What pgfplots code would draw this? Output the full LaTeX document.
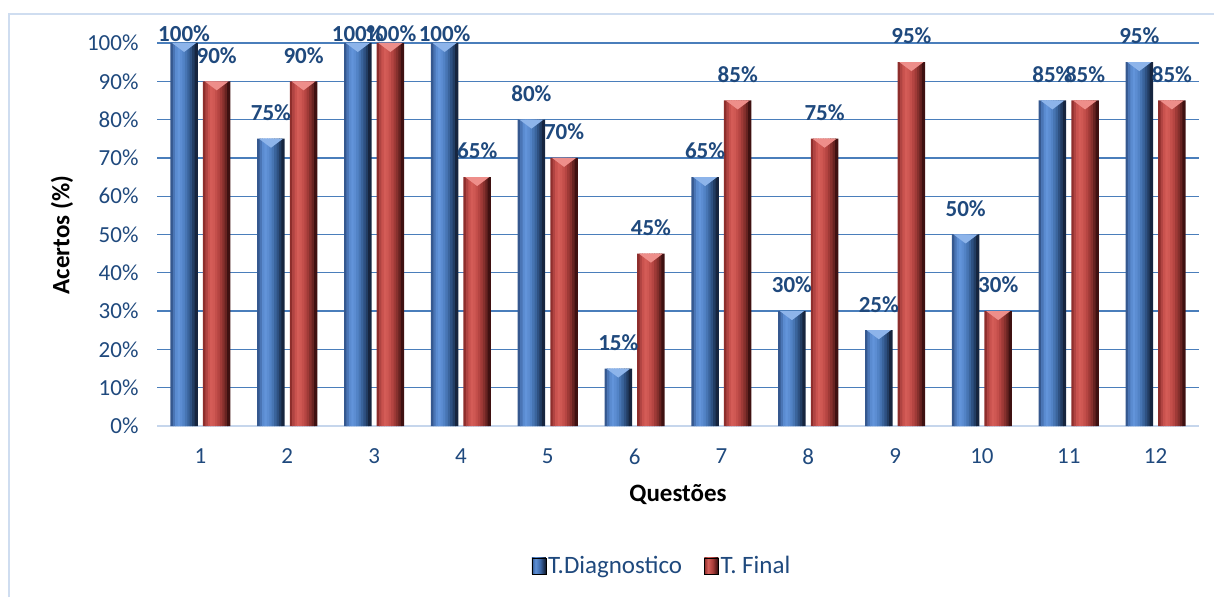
\documentclass[border=0pt]{standalone}
\usepackage{pgfplots}
\usepackage{pgfplotstable}
\pgfplotsset{compat=1.18}
\usepackage{fontspec}
\setmainfont{Carlito}
\definecolor{labblue}{HTML}{1F497D}
\definecolor{gridblue}{HTML}{4A7EBB}
\definecolor{axisl}{HTML}{C6D6EC}
\definecolor{frameb}{HTML}{CFDDF0}
\definecolor{bA}{HTML}{2E5793}
\definecolor{bB}{HTML}{5E90D6}
\definecolor{bC}{HTML}{3D68A8}
\definecolor{bD}{HTML}{15243D}
\definecolor{rA}{HTML}{8F2E2C}
\definecolor{rB}{HTML}{D5605B}
\definecolor{rC}{HTML}{A83C38}
\definecolor{rD}{HTML}{3F1010}
\definecolor{bCap}{HTML}{8DB4EA}
\definecolor{rCap}{HTML}{EE8E8A}
\definecolor{b1}{HTML}{35588F}
\definecolor{b2}{HTML}{4A75B5}
\definecolor{b3}{HTML}{5A8BD0}
\definecolor{b4}{HTML}{6294DA}
\definecolor{b5}{HTML}{5C8DD2}
\definecolor{b6}{HTML}{5283C6}
\definecolor{b7}{HTML}{4775B3}
\definecolor{b8}{HTML}{3A649C}
\definecolor{b9}{HTML}{2E5182}
\definecolor{b10}{HTML}{223D63}
\definecolor{b11}{HTML}{16253F}
\definecolor{r1}{HTML}{8E2E2C}
\definecolor{r2}{HTML}{B04442}
\definecolor{r3}{HTML}{C9524E}
\definecolor{r4}{HTML}{D45C57}
\definecolor{r5}{HTML}{CF5853}
\definecolor{r6}{HTML}{C44F4B}
\definecolor{r7}{HTML}{B54542}
\definecolor{r8}{HTML}{9F3A37}
\definecolor{r9}{HTML}{86302D}
\definecolor{r10}{HTML}{672321}
\definecolor{r11}{HTML}{3F1111}
\pgfdeclarehorizontalshading{blueBar}{100bp}{color(0bp)=(bA); color(25bp)=(bA); color(38bp)=(bB); color(55bp)=(bC); color(72bp)=(bD); color(100bp)=(bD)}
\pgfdeclarehorizontalshading{redBar}{100bp}{color(0bp)=(rA); color(25bp)=(rA); color(38bp)=(rB); color(55bp)=(rC); color(72bp)=(rD); color(100bp)=(rD)}
\pgfdeclareplotmark{capL}{\pgfpathmoveto{\pgfpoint{-28.3pt}{0pt}}\pgfpathlineto{\pgfpoint{-4.3pt}{0pt}}\pgfpathlineto{\pgfpoint{-16.3pt}{-9pt}}\pgfpathclose\pgfusepathqfill}
\pgfdeclareplotmark{capR}{\pgfpathmoveto{\pgfpoint{4.3pt}{0pt}}\pgfpathlineto{\pgfpoint{28.3pt}{0pt}}\pgfpathlineto{\pgfpoint{16.3pt}{-9pt}}\pgfpathclose\pgfusepathqfill}
\pgfplotstableread{
q d f
1 100 90
2 75 90
3 100 100
4 100 65
5 80 70
6 15 45
7 65 85
8 30 75
9 25 95
10 50 30
11 85 85
12 95 85
}\data
\pgfplotsset{strip/.style={ybar, bar width=3.3pt, draw=none, forget plot}}
\begin{document}
\begin{tikzpicture}[x=1pt,y=1pt]
\useasboundingbox (0,0) rectangle (1214,597);
\draw[frameb, line width=2pt] (8.5,0) -- (8.5,583) -- (1214,583);
\begin{axis}[
 at={(157pt,171pt)}, anchor=south west,
 scale only axis, width=1042pt, height=383pt,
 xmin=0.5, xmax=12.5, ymin=0, ymax=100,
 clip=false,
 axis lines*=left, axis line style={-},
 y axis line style={draw=none},
 x axis line style={draw=axisl, line width=2.2pt},
 ymajorgrids, grid style={gridblue, line width=1.3pt},
 major tick length=0pt,
 xtick={1,...,12}, ytick={10,20,...,100},
 extra y ticks={0}, extra y tick style={grid=none},
 yticklabel={\pgfmathprintnumber{\tick}\%},
 /pgf/number format/assume math mode=true,
 tick label style={font=\fontsize{23}{23}\selectfont, text=labblue},
 yticklabel style={xshift=-15pt},
 xticklabel style={yshift=-19pt},
 xlabel={Questões}, ylabel={Acertos (\%)},
 every axis x label/.style={at={(rel axis cs:0.5,-0.18)}, anchor=center, font=\fontsize{25}{25}\selectfont\bfseries},
 every axis y label/.style={at={(rel axis cs:-0.0912,0.4987)}, rotate=90, anchor=center, font=\fontsize{25}{25}\selectfont\bfseries},
 legend style={at={(rel axis cs:0.4846,-0.3655)}, anchor=center, draw=none, fill=none, legend columns=2, font=\fontsize{25}{25}\selectfont, text=labblue, /tikz/every even column/.append style={column sep=20pt}},
]
\addplot[strip, bar shift=-28.4pt, fill=b1] table[x=q,y=d]{\data};
\addplot[strip, bar shift=-25.98pt, fill=b2] table[x=q,y=d]{\data};
\addplot[strip, bar shift=-23.56pt, fill=b3] table[x=q,y=d]{\data};
\addplot[strip, bar shift=-21.14pt, fill=b4] table[x=q,y=d]{\data};
\addplot[strip, bar shift=-18.72pt, fill=b5] table[x=q,y=d]{\data};
\addplot[strip, bar shift=-16.3pt, fill=b6] table[x=q,y=d]{\data};
\addplot[strip, bar shift=-13.88pt, fill=b7] table[x=q,y=d]{\data};
\addplot[strip, bar shift=-11.46pt, fill=b8] table[x=q,y=d]{\data};
\addplot[strip, bar shift=-9.04pt, fill=b9] table[x=q,y=d]{\data};
\addplot[strip, bar shift=-6.62pt, fill=b10] table[x=q,y=d]{\data};
\addplot[strip, bar shift=-4.2pt, fill=b11] table[x=q,y=d]{\data};
\addplot[strip, bar shift=4.2pt, fill=r1] table[x=q,y=f]{\data};
\addplot[strip, bar shift=6.62pt, fill=r2] table[x=q,y=f]{\data};
\addplot[strip, bar shift=9.04pt, fill=r3] table[x=q,y=f]{\data};
\addplot[strip, bar shift=11.46pt, fill=r4] table[x=q,y=f]{\data};
\addplot[strip, bar shift=13.88pt, fill=r5] table[x=q,y=f]{\data};
\addplot[strip, bar shift=16.3pt, fill=r6] table[x=q,y=f]{\data};
\addplot[strip, bar shift=18.72pt, fill=r7] table[x=q,y=f]{\data};
\addplot[strip, bar shift=21.14pt, fill=r8] table[x=q,y=f]{\data};
\addplot[strip, bar shift=23.56pt, fill=r9] table[x=q,y=f]{\data};
\addplot[strip, bar shift=25.98pt, fill=r10] table[x=q,y=f]{\data};
\addplot[strip, bar shift=28.4pt, fill=r11] table[x=q,y=f]{\data};
\addlegendimage{legend image code/.code={\shade[shading=blueBar] (0pt,-8pt) rectangle (14pt,8pt);}}
\addlegendentry{T.Diagnostico}
\addlegendimage{legend image code/.code={\shade[shading=redBar] (0pt,-8pt) rectangle (14pt,8pt);}}
\addlegendentry{T. Final}
\addplot[only marks, mark=capL, mark options={fill=bCap, draw=none}, forget plot, point meta=y,
  nodes near coords={\pgfmathprintnumber{\pgfplotspointmeta}\%},
  visualization depends on={y \as \yv},
  every node near coord/.append style={font=\fontsize{23}{23}\selectfont\bfseries, text=labblue, anchor=center, xshift=-16.3pt, yshift={26-17*(\yv>99)}}]
 table[x=q,y=d]{\data};
\addplot[only marks, mark=capR, mark options={fill=rCap, draw=none}, forget plot, point meta=y,
  nodes near coords={\pgfmathprintnumber{\pgfplotspointmeta}\%},
  visualization depends on={y \as \yv},
  every node near coord/.append style={font=\fontsize{23}{23}\selectfont\bfseries, text=labblue, anchor=center, xshift=16.3pt, yshift={26-17*(\yv>99)}}]
 table[x=q,y=f]{\data};
\end{axis}
\end{tikzpicture}
\end{document}
